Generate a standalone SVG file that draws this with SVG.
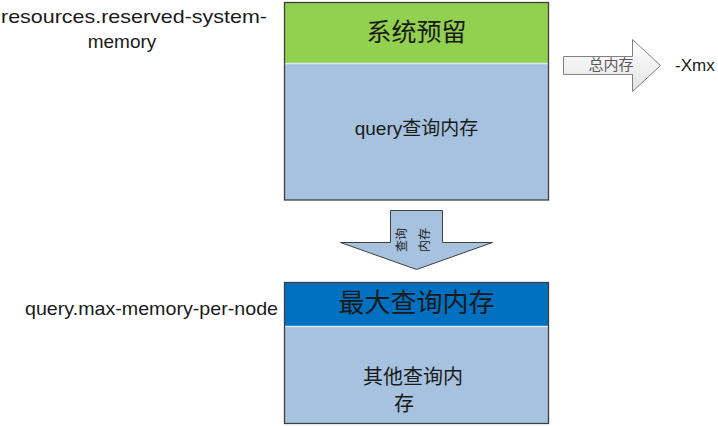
<svg xmlns="http://www.w3.org/2000/svg" width="718" height="426" viewBox="0 0 718 426">
<style>
.lbl{font-family:"Liberation Sans","Open Sans",sans-serif;fill:#1a1a1a}
.cjk{font-family:"Liberation Sans","Noto Sans CJK SC",sans-serif;fill:#1a1a1a}
.frame{fill:none;stroke:#3f3f3f;stroke-width:1.3}
.sep{stroke:#dce6f1;stroke-width:1.5}
</style>
<defs>
<linearGradient id="gw" x1="0" y1="0" x2="0" y2="1">
<stop offset="0" stop-color="#ffffff"/>
<stop offset="1" stop-color="#e4e4e4"/>
</linearGradient>
</defs>
<rect width="718" height="426" fill="#ffffff"/>

<g id="top-box">
<rect x="284.5" y="2.5" width="264" height="60.5" fill="#92d050"/>
<rect x="284.5" y="63" width="264" height="137" fill="#a6c2de"/>
<line class="sep" x1="285" y1="63.5" x2="548" y2="63.5"/>
<rect class="frame" x="284.5" y="2.5" width="264" height="197.5"/>
<text class="cjk" x="416.5" y="41" font-size="25" text-anchor="middle">系统预留</text>
<text class="cjk" x="416.5" y="135" font-size="19" text-anchor="middle">query查询内存</text>
</g>

<g id="bottom-box">
<rect x="284.5" y="282.5" width="264" height="43.5" fill="#0070c0"/>
<rect x="284.5" y="326" width="264" height="98" fill="#a6c2de"/>
<line class="sep" x1="285" y1="326.5" x2="548" y2="326.5"/>
<rect class="frame" x="284.5" y="282.5" width="264" height="141"/>
<text class="cjk" x="416.5" y="312" font-size="26" text-anchor="middle">最大查询内存</text>
<text class="cjk" x="413" y="384" font-size="20" text-anchor="middle">其他查询内</text>
<text class="cjk" x="404" y="411" font-size="20" text-anchor="middle">存</text>
</g>

<g id="label-reserved">
<text class="lbl" x="134" y="23" font-size="19" text-anchor="middle" textLength="266" lengthAdjust="spacingAndGlyphs">resources.reserved-system-</text>
<text class="lbl" x="122" y="48" font-size="19" text-anchor="middle">memory</text>
</g>

<g id="label-max">
<text class="lbl" x="25" y="315" font-size="19" textLength="253" lengthAdjust="spacingAndGlyphs">query.max-memory-per-node</text>
</g>

<g id="label-xmx">
<text class="lbl" x="675" y="71" font-size="17">-Xmx</text>
</g>

<g id="connectors">
<g id="arrow-total">
<polygon points="563.5,56.5 632.5,56.5 632.5,39.5 660.5,65.5 632.5,91.5 632.5,74.5 563.5,74.5" fill="url(#gw)" stroke="#7f7f7f" stroke-width="1"/>
<text class="cjk" x="611" y="70" font-size="15" text-anchor="middle" style="fill:#595959">总内存</text>
</g>
<g id="arrow-query">
<polygon points="390.5,210.5 442.5,210.5 442.5,242.5 492.5,242.5 416.5,269.5 340.5,242.5 390.5,242.5" fill="#a6c2de" stroke="#3f3f3f" stroke-width="1"/>
<text class="cjk" font-size="12" text-anchor="middle" transform="translate(406,240) rotate(-90)">查询</text>
<text class="cjk" font-size="12" text-anchor="middle" transform="translate(429,240) rotate(-90)">内存</text>
</g>
</g>
</svg>
